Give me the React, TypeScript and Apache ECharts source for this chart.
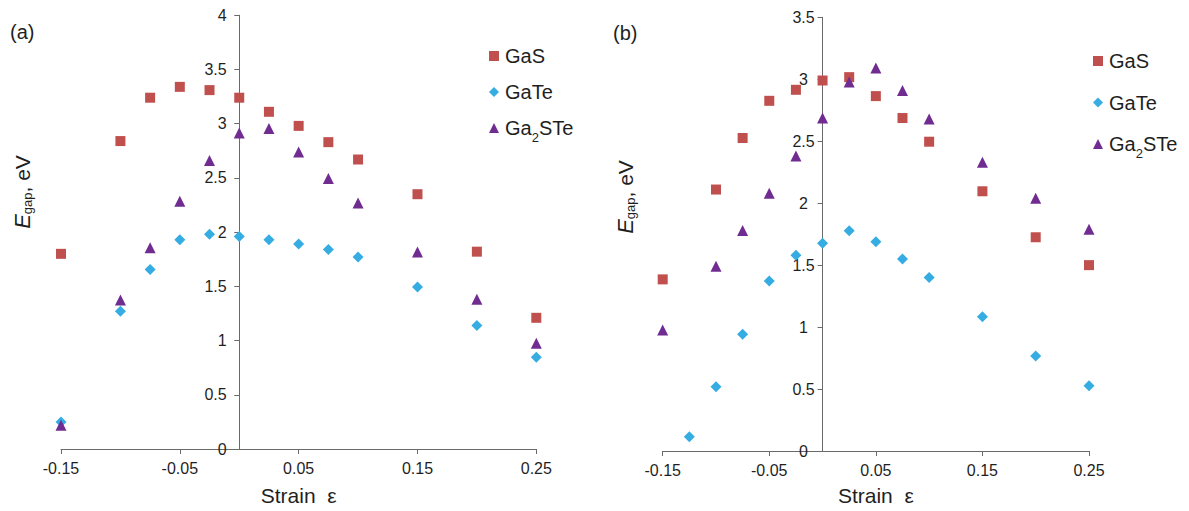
import React, { useEffect, useRef } from 'react';
import * as echarts from 'echarts';

// ---- data ----
const xTicks = [-0.15, -0.05, 0.05, 0.15, 0.25];

// panel (a)
const strainA = [-0.15, -0.1, -0.075, -0.05, -0.025, 0, 0.025, 0.05, 0.075, 0.1, 0.15, 0.2, 0.25];
const gasA = [1.80, 2.84, 3.24, 3.34, 3.31, 3.24, 3.11, 2.98, 2.83, 2.67, 2.35, 1.82, 1.21];
const gateA = [0.25, 1.27, 1.655, 1.93, 1.98, 1.96, 1.93, 1.89, 1.84, 1.77, 1.495, 1.14, 0.846];
const ga2steA = [0.22, 1.375, 1.857, 2.286, 2.66, 2.915, 2.955, 2.74, 2.495, 2.27, 1.817, 1.38, 0.975];

// panel (b)
const strainB = [-0.15, -0.1, -0.075, -0.05, -0.025, 0, 0.025, 0.05, 0.075, 0.1, 0.15, 0.2, 0.25];
const strainGateB = [-0.125, -0.1, -0.075, -0.05, -0.025, 0, 0.025, 0.05, 0.075, 0.1, 0.15, 0.2, 0.25];
const gasB = [1.385, 2.11, 2.526, 2.826, 2.915, 2.99, 3.017, 2.864, 2.687, 2.496, 2.096, 1.725, 1.5];
const gateB = [0.115, 0.518, 0.942, 1.371, 1.58, 1.677, 1.777, 1.688, 1.55, 1.4, 1.084, 0.767, 0.526];
const ga2steB = [0.977, 1.49, 1.78, 2.08, 2.38, 2.687, 2.977, 3.09, 2.91, 2.68, 2.33, 2.04, 1.79];

const seriesNames = ['GaS', 'GaTe', 'Ga2STe'];

const FONT = '"Liberation Sans", Arial, sans-serif';
const TXT = '#1f1f1f';
const AXC = '#6a6a6a';
const RED = '#C0504D';
const BLUE = '#35ADE3';
const PURPLE = '#702C90';

const X_MIN = -0.15;
const X_MAX = 0.25;

const pairs = (xs: number[], ys: number[]) => xs.map((x, i) => [x, ys[i]]);

function App() {
  const ref = useRef<HTMLDivElement>(null);
  useEffect(() => {
    if (!ref.current) return;
    const chart = echarts.init(ref.current, undefined, { renderer: 'svg' });

    const gridA = { left: 61, top: 15.3, width: 475.3, height: 435 };
    const gridB = { left: 662.7, top: 17.3, width: 426.3, height: 434.7 };
    // shift the y axis so that it crosses the x axis at strain 0
    const zeroOffset = (g: { width: number }) => -((0 - X_MIN) / (X_MAX - X_MIN)) * g.width;

    const xAxisCommon = (gap: number) => ({
      type: 'value',
      min: X_MIN,
      max: X_MAX,
      name: 'Strain  ε',
      nameLocation: 'middle',
      nameGap: gap,
      nameTextStyle: { fontSize: 21, color: TXT, fontFamily: FONT },
      axisLine: { onZero: false, lineStyle: { color: AXC, width: 1 } },
      axisTick: { show: true, length: 5, customValues: xTicks, lineStyle: { color: AXC } },
      axisLabel: { customValues: xTicks, fontSize: 16, color: TXT, fontFamily: FONT, margin: 11 },
      splitLine: { show: false },
    });

    const yAxisCommon = (max: number, align: string, margin: number, offset: number) => ({
      type: 'value',
      min: 0,
      max,
      interval: 0.5,
      position: 'left',
      offset,
      axisLine: { show: true, onZero: false, lineStyle: { color: AXC, width: 1 } },
      axisTick: { show: true, length: 5, lineStyle: { color: AXC } },
      axisLabel: { fontSize: 16, color: TXT, fontFamily: FONT, margin, align },
      splitLine: { show: false },
    });

    const legendCommon = (left: number, top: number, gap: number) => ({
      orient: 'vertical',
      left,
      top,
      itemGap: gap,
      itemWidth: 10,
      itemHeight: 10,
      data: seriesNames,
      selectedMode: false,
      formatter: (n: string) => (n === 'Ga2STe' ? '{m|Ga}{s|2}{m|STe}' : '{m|' + n + '}'),
      textStyle: {
        fontSize: 20,
        color: TXT,
        fontFamily: FONT,
        padding: [0, 0, 0, 1],
        rich: {
          m: { fontSize: 20, color: TXT, fontFamily: FONT, lineHeight: 22 },
          s: { fontSize: 13, color: TXT, fontFamily: FONT, verticalAlign: 'bottom', lineHeight: 13, padding: [0, 0, -5, 0] },
        },
      },
    });

    const sc = (name: string, data: number[][], idx: number, symbol: string, size: number, color: string) => ({
      type: 'scatter',
      name,
      data,
      xAxisIndex: idx,
      yAxisIndex: idx,
      symbol,
      symbolSize: size,
      itemStyle: { color, opacity: 1 },
      emphasis: { disabled: true },
    });

    const yTitle = (x: number, y: number) => ({
      type: 'text',
      x,
      y,
      rotation: Math.PI / 2,
      style: {
        text: '{e|E}{s|gap}{n|, eV}',
        align: 'center',
        verticalAlign: 'middle',
        fill: TXT,
        fontFamily: FONT,
        fontSize: 21,
        rich: {
          e: { fontSize: 22, fontStyle: 'italic', fill: TXT, fontFamily: FONT, lineHeight: 24 },
          s: { fontSize: 13, fill: TXT, fontFamily: FONT, verticalAlign: 'bottom', lineHeight: 16 },
          n: { fontSize: 21, fill: TXT, fontFamily: FONT, lineHeight: 24 },
        },
      },
    });

    chart.setOption({
      animation: false,
      backgroundColor: '#ffffff',
      title: [
        { text: '(a)', left: 5, top: 17, textStyle: { fontSize: 20, fontWeight: 'normal', color: TXT, fontFamily: FONT } },
        { text: '(b)', left: 608, top: 18, textStyle: { fontSize: 20, fontWeight: 'normal', color: TXT, fontFamily: FONT } },
      ],
      grid: [gridA, gridB],
      xAxis: [
        { ...xAxisCommon(36), gridIndex: 0 },
        { ...xAxisCommon(34), gridIndex: 1 },
      ],
      yAxis: [
        { ...yAxisCommon(4, 'right', 12.6, zeroOffset(gridA)), gridIndex: 0 },
        { ...yAxisCommon(3.5, 'center', 19, zeroOffset(gridB)), gridIndex: 1 },
      ],
      legend: [legendCommon(484, 41, 16), legendCommon(1088, 46, 21.5)],
      graphic: [yTitle(22, 192), yTitle(625, 197)],
      series: [
        sc('GaS', pairs(strainA, gasA), 0, 'rect', 10, RED),
        sc('GaTe', pairs(strainA, gateA), 0, 'diamond', 11, BLUE),
        sc('Ga2STe', pairs(strainA, ga2steA), 0, 'triangle', 11, PURPLE),
        sc('GaS', pairs(strainB, gasB), 1, 'rect', 10, RED),
        sc('GaTe', pairs(strainGateB, gateB), 1, 'diamond', 11, BLUE),
        sc('Ga2STe', pairs(strainB, ga2steB), 1, 'triangle', 11, PURPLE),
      ],
    });

    return () => chart.dispose();
  }, []);

  return <div ref={ref} style={{ position: 'fixed', left: 0, top: 0, width: 1189, height: 511 }} />;
}

export default App;
